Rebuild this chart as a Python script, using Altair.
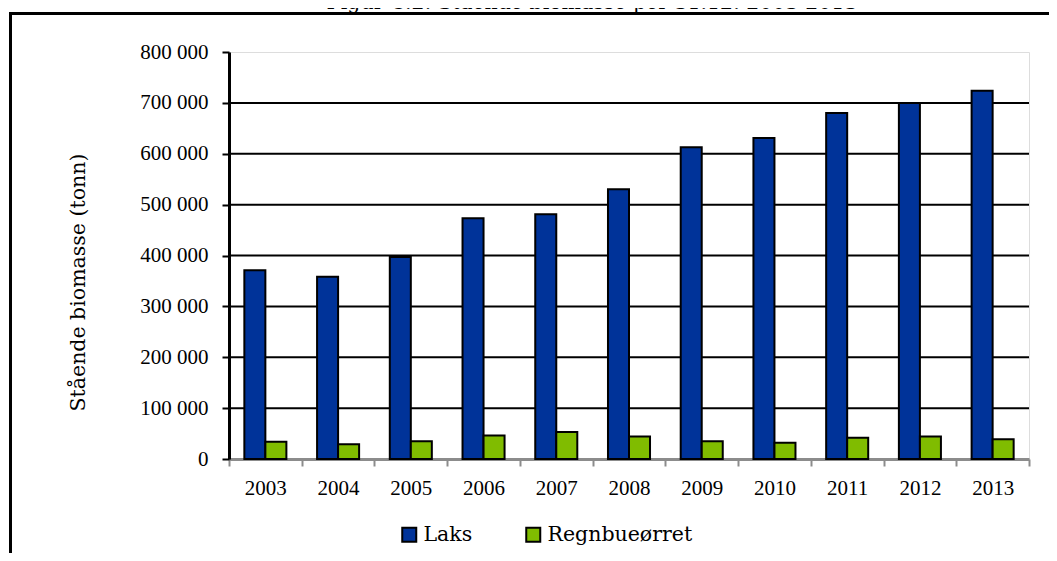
import altair as alt
import pandas as pd

years = ["2003", "2004", "2005", "2006", "2007", "2008", "2009", "2010", "2011", "2012", "2013"]
laks = [371000, 358000, 397000, 473000, 481000, 530000, 613000, 631000, 680000, 700000, 724000]
regnbue = [34000, 29000, 35000, 46000, 53000, 44000, 35000, 32000, 42000, 44000, 39000]
species = ["Laks", "Regnbueørret"]
colors = ["#003399", "#80BC00"]
y_ticks = [0, 100000, 200000, 300000, 400000, 500000, 600000, 700000, 800000]
grid_vals = [100000, 200000, 300000, 400000, 500000, 600000, 700000]
title_text = "Figur C.2: Stående biomasse per 31.12. 2003-2013"
y_title = "Stående biomasse (tonn)"

rows = []
for i, y in enumerate(years):
    rows.append({"year": y, "species": species[0], "value": laks[i]})
    rows.append({"year": y, "species": species[1], "value": regnbue[i]})
df = pd.DataFrame(rows)
grid_df = pd.DataFrame({"value": grid_vals})
one = pd.DataFrame({"a": [0]})

NUM_FONT = "Liberation Serif"
TXT_FONT = "DejaVu Serif"

y_axis = alt.Axis(values=y_ticks, title=y_title, grid=False,
                  labelExpr="datum.value == 0 ? '0' : format(datum.value/1000, 'd') + ' 000'",
                  domainColor="black", domainWidth=3, tickColor="black", tickWidth=2,
                  tickSize=7, labelFontSize=21, labelColor="black", labelPadding=14,
                  labelFont=NUM_FONT, titleFont=TXT_FONT, titleFontSize=20.5,
                  titleFontWeight="normal", titleColor="black", titleAngle=270,
                  titleX=-151, titleY=230, titleAlign="center", titleBaseline="middle")
y_scale = alt.Scale(domain=[0, 800000], nice=False)

grid = alt.Chart(grid_df).mark_rule(color="black", strokeWidth=2).encode(
    y=alt.Y("value:Q", scale=y_scale, axis=y_axis)
)

bars = alt.Chart(df).mark_bar(stroke="black", strokeWidth=2).encode(
    x=alt.X("year:N", sort=years, scale=alt.Scale(paddingInner=0, paddingOuter=0),
            axis=alt.Axis(title=None, labelAngle=0, tickBand="extent", tickColor="#8c8c8c",
                          tickWidth=2, tickSize=7, domainColor="#8c8c8c", domainWidth=3,
                          labelFontSize=21, labelColor="black", labelPadding=11,
                          labelFont=NUM_FONT)),
    xOffset=alt.XOffset("species:N", sort=species,
                        scale=alt.Scale(domain=species, paddingInner=0, paddingOuter=0.73)),
    y=alt.Y("value:Q", scale=y_scale, axis=y_axis),
    color=alt.Color("species:N", sort=species,
                    scale=alt.Scale(domain=species, range=colors),
                    legend=alt.Legend(title=None, orient="none", legendX=170, legendY=472,
                                      direction="horizontal", symbolType="square", symbolSize=196,
                                      symbolStrokeColor="black", symbolStrokeWidth=2,
                                      labelFontSize=20.5, labelFont=TXT_FONT, labelColor="black",
                                      labelOffset=4, columnPadding=49, padding=0)),
)

left_frame = alt.Chart(one).mark_rule(color="black", strokeWidth=3).encode(
    x=alt.value(-218.5), y=alt.value(-39), y2=alt.value(520)
)
top_frame = alt.Chart(one).mark_rule(color="black", strokeWidth=3).encode(
    x=alt.value(-220), x2=alt.value(840), y=alt.value(-38.5)
)
title = alt.Chart(one).mark_text(font=TXT_FONT, fontSize=20.5, color="black", align="center",
                                 baseline="alphabetic").encode(
    x=alt.value(363), y=alt.value(-43), text=alt.value(title_text)
)

chart = alt.layer(grid, bars, left_frame, top_frame, title).properties(
    width=800, height=407,
    autosize=alt.AutoSizeParams(type="none"),
    padding={"left": 221, "top": 44, "right": 20, "bottom": 94},
).configure_view(stroke="#8c8c8c", strokeWidth=3).configure(background="white")

chart.save("out.html", embed_options={"renderer": "svg", "actions": False})
